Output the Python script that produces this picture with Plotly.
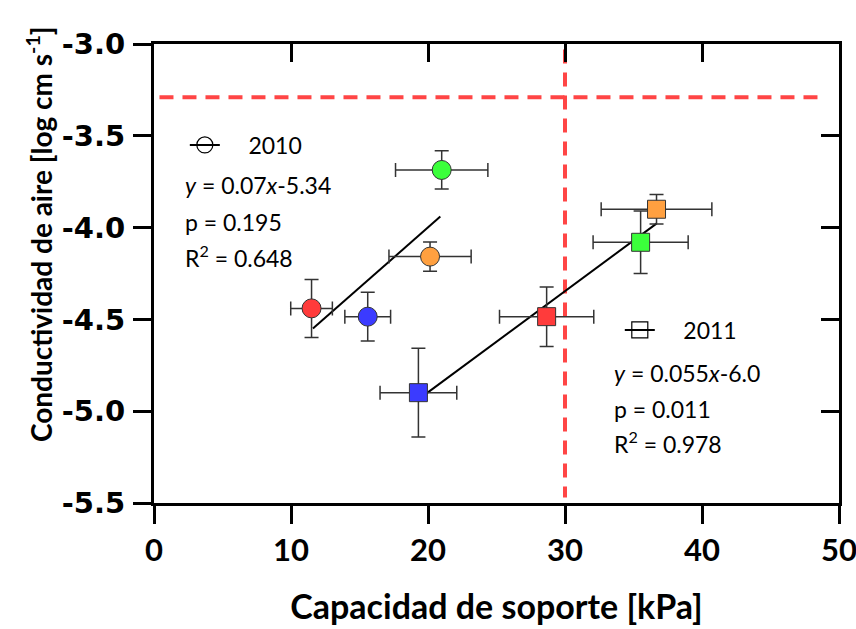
import plotly.graph_objects as go

# 2010 (circles)
x2010 = [11.5, 15.6, 20.15, 21.0]
y2010 = [-4.44, -4.485, -4.158, -3.686]
ex2010 = [1.52, 1.67, 3.0, 3.37]
ey2010 = [0.158, 0.133, 0.08, 0.104]
c2010 = ["#FF3B3B", "#3B3BFF", "#FFA040", "#3BFF3B"]

# 2011 (squares)
x2011 = [19.3, 28.66, 35.52, 36.68]
y2011 = [-4.899, -4.485, -4.08, -3.90]
ex2011 = [2.8, 3.44, 3.47, 4.04]
ey2011 = [0.242, 0.162, 0.17, 0.08]
c2011 = ["#3B3BFF", "#FF3B3B", "#3BFF3B", "#FFA040"]

# regression lines
fit2010_x = [11.6, 20.9]
fit2010_y = [-4.55, -3.94]
fit2011_x = [19.4, 36.7]
fit2011_y = [-4.93, -3.977]

# reference lines
ref_y = -3.29
ref_x = 30

xticks = [0, 10, 20, 30, 40, 50]
yticks = [-3.0, -3.5, -4.0, -4.5, -5.0, -5.5]

red = "#FF4545"
fig = go.Figure()

# reference dashed lines
fig.add_trace(go.Scatter(x=[0.4, 49.0], y=[ref_y, ref_y], mode="lines",
                         line=dict(color=red, width=4, dash="14px,9px"),
                         showlegend=False, hoverinfo="skip"))
fig.add_trace(go.Scatter(x=[ref_x, ref_x], y=[-3.03, -5.47], mode="lines",
                         line=dict(color=red, width=4, dash="14px,9px"),
                         showlegend=False, hoverinfo="skip"))

errstyle = dict(color="#333333", thickness=1.5, width=7)

fig.add_trace(go.Scatter(x=fit2010_x, y=fit2010_y, mode="lines",
                         line=dict(color="black", width=2), showlegend=False))
fig.add_trace(go.Scatter(x=fit2011_x, y=fit2011_y, mode="lines",
                         line=dict(color="black", width=2), showlegend=False))

fig.add_trace(go.Scatter(
    x=x2010, y=y2010, mode="markers",
    error_x=dict(type="data", array=ex2010, **errstyle),
    error_y=dict(type="data", array=ey2010, **errstyle),
    marker=dict(symbol="circle", size=19, color=c2010, line=dict(color="#333333", width=1)),
    showlegend=False))
fig.add_trace(go.Scatter(
    x=x2011, y=y2011, mode="markers",
    error_x=dict(type="data", array=ex2011, **errstyle),
    error_y=dict(type="data", array=ey2011, **errstyle),
    marker=dict(symbol="square", size=18, color=c2011, line=dict(color="#333333", width=1)),
    showlegend=False))

# legend entries
fig.add_trace(go.Scatter(x=[None], y=[None], mode="lines+markers", name="    2010",
                         line=dict(color="black", width=2),
                         marker=dict(symbol="circle-open", size=16, color="black", line=dict(width=1.2)),
                         legend="legend"))
fig.add_trace(go.Scatter(x=[None], y=[None], mode="lines+markers", name="    2011",
                         line=dict(color="black", width=2),
                         marker=dict(symbol="square-open", size=16, color="black", line=dict(width=1.2)),
                         legend="legend2"))

txtfont = dict(family="Lato", size=23, color="black")
ann = []
for xx, lines in [(2.1, [(-3.768, "<i>y</i> = 0.07<i>x</i>-5.34"), (-3.969, "p = 0.195"), (-4.155, "R<sup>2</sup> = 0.648")]),
                  (33.4, [(-4.792, "<i>y</i> = 0.055<i>x</i>-6.0"), (-4.988, "p = 0.011"), (-5.173, "R<sup>2</sup> = 0.978")])]:
    for yy, t in lines:
        ann.append(dict(x=xx, y=yy, xref="x", yref="y", text=t, showarrow=False,
                        xanchor="left", yanchor="middle", font=txtfont))

W, H = 856, 629
L, T = 154, 44
PW, PH = 685, 459
R = W - L - PW
B = H - T - PH

# y axis title as rotated annotation (positioned above centre like the reference)
ann.append(dict(x=(39 - L) / PW, y=(T + PH - 234) / PH, xref="paper", yref="paper",
                text="Conductividad de aire [log cm s<sup>-1</sup>]",
                showarrow=False, textangle=-90, xanchor="center", yanchor="middle",
                font=dict(family="Lato", size=28, color="black", weight="bold")))

axline = dict(showline=True, linecolor="black", linewidth=3, ticks="outside",
              ticklen=18, tickwidth=3, tickcolor="black", showgrid=False, zeroline=False,
              automargin=False, ticklabeloverflow="allow")

fig.update_layout(
    width=W, height=H,
    margin=dict(l=L, r=R, t=T, b=B),
    plot_bgcolor="white", paper_bgcolor="white",
    annotations=ann,
    xaxis=dict(range=[0, 50], tickvals=xticks, ticktext=[str(v) for v in xticks],
               tickfont=dict(family="Lato", size=31, color="black", weight="bold"),
               title=dict(text="Capacidad de soporte [kPa]", standoff=28,
                          font=dict(family="Lato", size=34, color="black", weight="bold")),
               **axline),
    yaxis=dict(range=[-5.5, -3.0], tickvals=yticks, ticktext=[f"{v:.1f}" for v in yticks],
               tickfont=dict(family="DejaVu Sans", size=29, color="black", weight="bold"),
               ticklabelstandoff=2,
               **axline),
    xaxis2=dict(range=[0, 50], overlaying="x", side="top", showline=True, linecolor="black",
                linewidth=3, ticks="inside", ticklen=18, tickwidth=3, tickcolor="black",
                tickvals=xticks, showticklabels=False, showgrid=False, zeroline=False, automargin=False),
    yaxis2=dict(range=[-5.5, -3.0], overlaying="y", side="right", showline=True, linecolor="black",
                linewidth=3, ticks="inside", ticklen=18, tickwidth=3, tickcolor="black",
                tickvals=yticks, showticklabels=False, showgrid=False, zeroline=False, automargin=False),
    legend=dict(x=0.045, y=0.78, xanchor="left", yanchor="middle", bgcolor="rgba(0,0,0,0)",
                font=txtfont, borderwidth=0),
    legend2=dict(x=0.68, y=0.377, xanchor="left", yanchor="middle", bgcolor="rgba(0,0,0,0)",
                 font=txtfont, borderwidth=0),
)
# dummy trace to activate secondary axes
fig.add_trace(go.Scatter(x=[None], y=[None], xaxis="x2", yaxis="y2", showlegend=False))

fig.write_html("out.html", config={"displayModeBar": False},
               post_script="document.body.style.margin='0';document.body.style.overflow='hidden';")
